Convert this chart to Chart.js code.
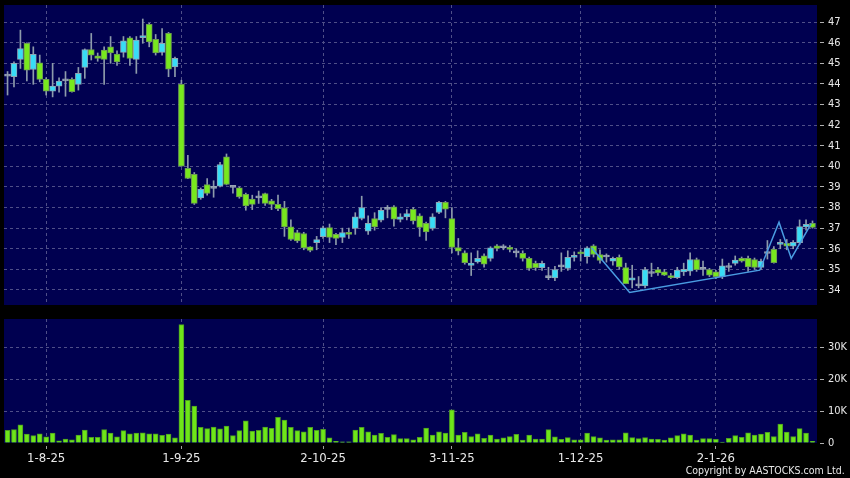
<!DOCTYPE html>
<html>
<head>
<meta charset="utf-8">
<script src="https://cdn.jsdelivr.net/npm/chart.js@4.4.1/dist/chart.umd.min.js"></script>
<style>
  html, body { margin: 0; padding: 0; background: #000; }
  #wrap { position: relative; width: 850px; height: 478px; overflow: hidden; }
  #priceChart { position: absolute; left: 0; top: 0; }
  #volChart { position: absolute; left: 0; top: 310px; }
  #copy {
    position: absolute; right: 5px; bottom: 1px; color: #e8e8e8;
    font: 11px "DejaVu Sans Condensed", "DejaVu Sans", sans-serif;
    transform-origin: right bottom;
  }
</style>
</head>
<body>
<div id="wrap">
  <canvas id="priceChart" width="850" height="310"></canvas>
  <canvas id="volChart" width="850" height="168"></canvas>
  <div id="copy">Copyright by AASTOCKS.com Ltd.</div>
</div>
<script>
const dates = [
  "24-7-25", "25-7-25", "28-7-25", "29-7-25", "30-7-25", "31-7-25",
  "1-8-25", "4-8-25", "5-8-25", "6-8-25", "7-8-25", "8-8-25", "11-8-25", "12-8-25", "13-8-25", "14-8-25",
  "15-8-25", "18-8-25", "19-8-25", "20-8-25", "21-8-25", "22-8-25", "25-8-25", "26-8-25", "27-8-25", "28-8-25", "29-8-25",
  "1-9-25", "2-9-25", "3-9-25", "4-9-25", "5-9-25", "8-9-25", "9-9-25", "10-9-25", "11-9-25", "12-9-25", "15-9-25",
  "16-9-25", "17-9-25", "18-9-25", "19-9-25", "22-9-25", "23-9-25", "24-9-25", "25-9-25", "26-9-25", "29-9-25", "30-9-25",
  "2-10-25", "3-10-25", "6-10-25", "8-10-25", "9-10-25", "10-10-25", "13-10-25", "14-10-25", "15-10-25", "16-10-25",
  "17-10-25", "20-10-25", "21-10-25", "22-10-25", "23-10-25", "24-10-25", "27-10-25", "28-10-25", "30-10-25", "31-10-25",
  "3-11-25", "4-11-25", "5-11-25", "6-11-25", "7-11-25", "10-11-25", "11-11-25", "12-11-25", "13-11-25", "14-11-25",
  "17-11-25", "18-11-25", "19-11-25", "20-11-25", "21-11-25", "24-11-25", "25-11-25", "26-11-25", "27-11-25", "28-11-25",
  "1-12-25", "2-12-25", "3-12-25", "4-12-25", "5-12-25", "8-12-25", "9-12-25", "10-12-25", "11-12-25", "12-12-25",
  "15-12-25", "16-12-25", "17-12-25", "18-12-25", "19-12-25", "22-12-25", "23-12-25", "24-12-25", "29-12-25", "30-12-25", "31-12-25",
  "2-1-26", "5-1-26", "6-1-26", "7-1-26", "8-1-26", "9-1-26", "12-1-26", "13-1-26", "14-1-26", "15-1-26",
  "16-1-26", "19-1-26", "20-1-26", "21-1-26", "22-1-26", "23-1-26",
];

const opens = [
  44.38, 44.35, 45.19, 45.97, 44.70, 45.02, 44.22, 43.65, 43.89, 44.15,
  44.22, 43.98, 44.80, 45.67, 45.36, 45.64, 45.80, 45.45, 45.53, 46.24,
  45.19, 46.24, 46.89, 46.16, 45.53, 46.45, 44.83, 43.98, 39.90, 39.61,
  38.47, 39.12, 38.93, 39.04, 40.46, 38.98, 38.96, 38.64, 38.41, 38.47,
  38.68, 38.33, 38.15, 37.99, 37.06, 36.78, 36.74, 36.09, 36.29, 36.59,
  37.03, 36.70, 36.55, 36.77, 36.99, 37.47, 36.85, 37.47, 37.39, 37.91,
  38.03, 37.42, 37.55, 37.91, 37.60, 37.23, 36.99, 37.76, 38.25, 37.47,
  36.06, 35.80, 35.19, 35.36, 35.66, 35.53, 36.14, 36.05, 36.06, 35.80,
  35.78, 35.53, 35.29, 35.08, 34.60, 34.59, 35.12, 35.05, 35.58, 35.85,
  35.61, 36.14, 35.72, 35.60, 35.40, 35.58, 35.09, 34.48, 34.20, 34.19,
  34.80, 34.99, 34.88, 34.70, 34.60, 34.88, 34.91, 35.48, 35.00, 34.99,
  34.88, 34.64, 35.09, 35.29, 35.53, 35.53, 35.48, 35.09, 35.77, 35.97,
  36.21, 36.26, 36.13, 36.29, 37.06, 37.23,
];
const highs = [
  44.60, 45.07, 46.61, 46.00, 45.80, 45.40, 44.30, 45.00, 44.30, 44.60,
  44.30, 44.80, 45.70, 46.45, 45.50, 45.80, 46.30, 45.60, 46.30, 46.30,
  46.30, 47.15, 46.94, 46.40, 46.69, 46.50, 45.30, 44.18, 40.54, 39.70,
  38.95, 39.40, 39.30, 40.20, 40.60, 39.00, 39.00, 38.70, 38.60, 38.80,
  38.70, 38.40, 38.60, 38.30, 37.40, 36.90, 36.80, 36.10, 36.60, 37.10,
  37.20, 36.75, 37.00, 37.00, 37.75, 38.55, 37.60, 37.75, 38.00, 38.10,
  38.10, 37.70, 37.90, 38.00, 37.70, 37.30, 37.70, 38.30, 38.30, 38.00,
  36.50, 35.90, 35.80, 35.90, 35.75, 36.10, 36.20, 36.20, 36.15, 36.00,
  35.90, 35.60, 35.40, 35.40, 35.10, 35.15, 35.80, 35.90, 35.85, 35.95,
  36.10, 36.20, 35.95, 35.75, 35.60, 35.70, 35.30, 35.20, 34.65, 35.10,
  35.30, 35.10, 35.00, 34.80, 35.10, 35.30, 35.80, 35.55, 35.40, 35.05,
  34.95, 35.50, 35.30, 35.65, 35.60, 35.65, 35.55, 35.50, 36.40, 36.10,
  36.45, 36.45, 36.40, 37.40, 37.40, 37.35,
];
const lows = [
  43.46, 43.86, 44.75, 44.14, 43.98, 44.10, 43.46, 43.37, 43.60, 43.40,
  43.60, 43.70, 44.27, 45.16, 45.10, 43.98, 45.00, 44.90, 45.30, 44.90,
  44.51, 45.97, 45.80, 45.40, 45.40, 44.35, 44.35, 40.00, 39.40, 38.15,
  38.40, 38.60, 38.50, 39.00, 39.10, 38.70, 38.45, 37.87, 37.90, 38.20,
  38.10, 37.90, 37.85, 36.60, 36.40, 36.30, 35.95, 35.85, 35.95, 36.50,
  36.30, 36.20, 36.30, 36.50, 36.70, 37.40, 36.70, 36.90, 37.30, 37.50,
  37.10, 37.30, 37.40, 37.20, 36.60, 36.40, 36.90, 37.70, 37.50, 35.80,
  35.70, 35.25, 34.70, 35.30, 35.10, 35.40, 35.90, 35.95, 35.85, 35.60,
  35.40, 34.95, 34.95, 34.95, 34.50, 34.45, 34.90, 34.95, 35.40, 35.40,
  35.30, 35.60, 35.30, 35.35, 35.20, 35.00, 34.30, 34.10, 34.10, 34.10,
  34.65, 34.70, 34.70, 34.55, 34.55, 34.70, 34.70, 34.90, 34.70, 34.65,
  34.55, 34.55, 34.90, 35.20, 35.35, 34.90, 35.00, 35.00, 35.50, 35.30,
  36.00, 35.95, 36.00, 36.20, 36.90, 37.00,
];
const closes = [
  44.38, 45.00, 45.72, 44.67, 45.43, 44.22, 43.65, 43.89, 44.14, 44.15,
  43.62, 44.51, 45.67, 45.40, 45.24, 45.19, 45.51, 45.07, 46.09, 45.24,
  46.13, 46.34, 46.04, 45.51, 45.97, 44.72, 45.24, 40.01, 39.41, 38.20,
  38.88, 38.68, 38.93, 40.09, 39.12, 38.98, 38.52, 38.08, 38.15, 38.47,
  38.20, 38.15, 37.95, 37.06, 36.45, 36.38, 36.04, 35.92, 36.45, 37.02,
  36.55, 36.50, 36.79, 36.70, 37.55, 38.00, 37.23, 37.06, 37.86, 37.91,
  37.43, 37.55, 37.71, 37.35, 37.04, 36.82, 37.55, 38.25, 37.92, 36.06,
  35.88, 35.33, 35.30, 35.53, 35.25, 36.04, 36.01, 36.05, 35.97, 35.80,
  35.53, 35.05, 35.08, 35.29, 34.60, 34.99, 35.12, 35.58, 35.66, 35.75,
  36.04, 35.72, 35.43, 35.60, 35.53, 35.12, 34.31, 34.59, 34.20, 34.99,
  34.80, 34.83, 34.72, 34.60, 34.96, 35.00, 35.48, 34.99, 35.00, 34.72,
  34.64, 35.17, 35.09, 35.45, 35.40, 35.12, 35.09, 35.40, 35.77, 35.32,
  36.29, 36.13, 36.31, 37.07, 37.18, 37.04,
];
const volumes = [
  3960, 4170, 5700, 2800, 2300, 2900, 1900, 3100, 700, 1250,
  1000, 2500, 4000, 1800, 1800, 4200, 3100, 1900, 3850, 2900,
  3100, 3200, 2900, 2900, 2400, 2800, 1600, 37000, 13300, 11500,
  4900, 4500, 5000, 4400, 5300, 2300, 3850, 6900, 3750, 3950,
  5000, 4600, 8000, 7200, 4900, 3850, 3500, 4900, 3950, 4300,
  1600, 500, 400, 400, 4000, 4900, 3500, 2500, 3000, 1800,
  2600, 1350, 1350, 1000, 1800, 4700, 2500, 3500, 3100, 10400,
  2500, 3300, 2000, 2900, 1450, 2500, 1250, 1600, 2000, 2700,
  900, 2500, 1250, 1250, 4200, 1900, 1150, 1700, 1000, 1000,
  3100, 2000, 1600, 900, 1000, 1000, 3200, 1700, 1350, 1700,
  1250, 1150, 900, 1600, 2300, 2900, 2500, 900, 1350, 1350,
  1150, 300, 1450, 2300, 1800, 3200, 2500, 2800, 3300, 2000,
  5900, 3400, 2000, 4500, 3100, 500,
];

// blue trend line drawn over the last months
const zigX = [90.7, 96.6, 116.8, 119.8, 121.7, 124.8];
const zigY = [36.05, 33.88, 34.96, 37.29, 35.53, 37.22];

const priceTicks = [34, 35, 36, 37, 38, 39, 40, 41, 42, 43, 44, 45, 46, 47];
const volTicks = [0, 10000, 20000, 30000];

// first trading day of each month gets a date label
const tickIdx = dates
  .map((d, i) => (i > 0 && d.split("-")[1] !== dates[i - 1].split("-")[1] ? i : -1))
  .filter((i) => i >= 0);

const FONT = "'DejaVu Sans Condensed', 'DejaVu Sans', sans-serif";
const NAVY = "#000050";
const GRID = "#4f4f88";
const LABEL = "#e8e8e8";
const UP = "#38dcf6";
const UP_EDGE = "#8ea4b4";
const DOWN = "#78e81e";
const DOWN_EDGE = "#6c9a52";
const FLAT = "#98a4b4";
const WICK = "#8d9bab";

const navyBg = {
  id: "navyBg",
  beforeDraw(chart) {
    const { ctx, chartArea: a } = chart;
    ctx.save();
    ctx.fillStyle = NAVY;
    ctx.fillRect(a.left, a.top, a.right - a.left, a.bottom - a.top);
    ctx.restore();
  },
};

const noEdgePadding = (axis) => {
  axis.paddingTop = 0;
  axis.paddingBottom = 0;
  axis.paddingLeft = 0;
  axis.paddingRight = 0;
};

const xAxis = (showLabels) => ({
  type: "linear",
  min: -0.55,
  max: 125.7,
  offset: false,
  afterBuildTicks: (axis) => {
    axis.ticks = tickIdx.map((v) => ({ value: v }));
  },
  afterFit: (axis) => {
    axis.height = showLabels ? 35 : 0;
    noEdgePadding(axis);
  },
  grid: {
    offset: false,
    color: GRID,
    drawTicks: showLabels,
    tickLength: 6,
    tickColor: "#a0a0a0",
    tickBorderDash: [0, 3, 3, 20],
  },
  border: { display: false, dash: [3, 3] },
  ticks: {
    display: showLabels,
    autoSkip: false,
    maxRotation: 0,
    padding: 2,
    color: LABEL,
    font: { family: FONT, size: 13 },
    callback: (v) => dates[v],
  },
});

const yAxis = (min, max, ticks, fmt) => ({
  position: "right",
  min,
  max,
  afterBuildTicks: (axis) => {
    axis.ticks = ticks.map((v) => ({ value: v }));
  },
  afterFit: (axis) => {
    axis.width = 33;
    noEdgePadding(axis);
  },
  grid: {
    color: (c) => (c.tick && c.tick.value === 0 ? "transparent" : GRID),
    tickLength: 7,
    tickColor: "#b0b0b0",
    tickBorderDash: [0, 3, 4, 20],
  },
  border: { display: false, dash: [3, 3] },
  ticks: {
    padding: 4,
    color: LABEL,
    font: { family: FONT, size: 11 },
    callback: fmt,
  },
});

const baseOptions = {
  responsive: false,
  animation: false,
  events: [],
  plugins: { legend: { display: false }, tooltip: { enabled: false } },
};

const isFlat = (i) => Math.abs(closes[i] - opens[i]) < 0.005;
const bodyFill = opens.map((o, i) => (isFlat(i) ? FLAT : closes[i] > o ? UP : DOWN));
const bodyEdge = opens.map((o, i) => (isFlat(i) ? FLAT : closes[i] > o ? UP_EDGE : DOWN_EDGE));

new Chart(document.getElementById("priceChart"), {
  type: "bar",
  data: {
    datasets: [
      {
        type: "line",
        data: zigX.map((x, i) => ({ x, y: zigY[i] })),
        borderColor: "#4a9ce2",
        borderWidth: 1.5,
        pointRadius: 0,
        order: 0,
      },
      {
        data: opens.map((o, i) => ({ x: i, y: [o, closes[i]] })),
        backgroundColor: bodyFill,
        borderColor: bodyEdge,
        borderWidth: 1,
        borderSkipped: false,
        barThickness: 6,
        minBarLength: 2,
        grouped: false,
        order: 1,
      },
      {
        data: lows.map((l, i) => ({ x: i, y: [l, highs[i]] })),
        backgroundColor: WICK,
        barThickness: 1,
        grouped: false,
        order: 2,
      },
    ],
  },
  options: {
    ...baseOptions,
    layout: { padding: { left: 4, top: 5, bottom: 5, right: 0 } },
    scales: {
      x: xAxis(false),
      y: yAxis(33.27, 47.83, priceTicks, (v) => v),
    },
  },
  plugins: [navyBg],
});

new Chart(document.getElementById("volChart"), {
  type: "bar",
  data: {
    datasets: [
      {
        data: volumes.map((v, i) => ({ x: i, y: v })),
        backgroundColor: "#6ee619",
        borderColor: "#4c9c22",
        borderWidth: 1,
        barThickness: 5,
      },
    ],
  },
  options: {
    ...baseOptions,
    layout: { padding: { left: 4, top: 9, bottom: 0, right: 0 } },
    scales: {
      x: xAxis(true),
      y: yAxis(0, 38750, volTicks, (v) => (v === 0 ? "0" : v / 1000 + "K")),
    },
  },
  plugins: [navyBg],
});

// squeeze the copyright line to the reference width if the font runs wide
const copy = document.getElementById("copy");
const w = copy.getBoundingClientRect().width;
if (w > 159) copy.style.transform = `scaleX(${159 / w})`;
</script>
</body>
</html>
